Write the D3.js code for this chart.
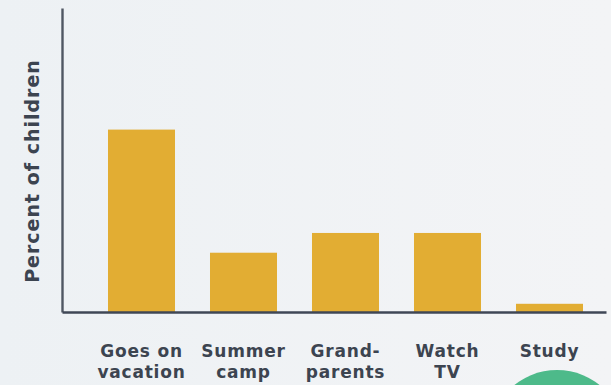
<!DOCTYPE html>
<html>
<head>
<meta charset="utf-8">
<script src="https://cdn.jsdelivr.net/npm/d3@7"></script>
<style>
  html, body { margin: 0; padding: 0; }
  body { width: 611px; height: 385px; overflow: hidden; }
  svg { display: block; }
</style>
</head>
<body>
<svg id="chart" width="611" height="385"></svg>
<script>
// Activities and the share of children doing each one (percent)
const categories = ["Goes on vacation", "Summer camp", "Grand-parents", "Watch TV", "Study"];
const labelLines = [["Goes on", "vacation"], ["Summer", "camp"], ["Grand-", "parents"], ["Watch", "TV"], ["Study"]];
const values = [60, 19.5, 26, 26, 2.7];
const yDomain = [0, 100];

const W = 611, H = 385;
const svg = d3.select("#chart");

// Soft background
const defs = svg.append("defs");
const bg = defs.append("linearGradient").attr("id", "bg").attr("x1", "0").attr("x2", "1").attr("y1", "0").attr("y2", "0");
bg.append("stop").attr("offset", "0").attr("stop-color", "#edf1f4");
bg.append("stop").attr("offset", "1").attr("stop-color", "#f3f4f6");
svg.append("rect").attr("width", W).attr("height", H).attr("fill", "url(#bg)");

const axisX = 62, axisBottom = 312, axisTop = 8, axisRight = 606;

const x = d3.scaleBand()
  .domain(categories)
  .range([90.5, 600.5])
  .paddingInner(0.343)
  .paddingOuter(0.1715);

const y = d3.scaleLinear().domain(yDomain).range([axisBottom, axisTop]);

// Bars
svg.append("g").selectAll("rect")
  .data(categories)
  .join("rect")
  .attr("x", d => x(d))
  .attr("width", x.bandwidth())
  .attr("y", (d, i) => y(values[i]))
  .attr("height", (d, i) => y(0) - y(values[i]))
  .attr("fill", "#e2ad33");

// Axes drawn as plain lines (no ticks)
const yAxis = d3.axisLeft(y).tickValues([]).tickSizeOuter(0);
const gy = svg.append("g").attr("transform", `translate(${axisX},0)`).call(yAxis);
gy.select(".domain").attr("stroke", "#4f5763").attr("stroke-width", 2.4);

const xLine = d3.scaleLinear().domain([0, 1]).range([axisX, axisRight]);
const xAxis = d3.axisBottom(xLine).tickValues([]).tickSizeOuter(0);
const gx = svg.append("g").attr("transform", `translate(0,${axisBottom})`).call(xAxis);
gx.select(".domain").attr("stroke", "#3f4756").attr("stroke-width", 2.4);

const font = "'DejaVu Sans', sans-serif";
const textColor = "#3c4450";

// Category labels
const lab = svg.append("g")
  .attr("font-family", font)
  .attr("font-weight", "bold")
  .attr("font-size", 17)
  .attr("letter-spacing", 0.8)
  .attr("fill", textColor)
  .attr("text-anchor", "middle");
categories.forEach((c, i) => {
  const cx = x(c) + x.bandwidth() / 2;
  const t = lab.append("text").attr("x", cx).attr("y", 357);
  labelLines[i].forEach((line, j) => {
    t.append("tspan").attr("x", cx).attr("dy", j === 0 ? 0 : 21).text(line);
  });
});

// Y axis title
svg.append("text")
  .attr("transform", "translate(39,171) rotate(-90)")
  .attr("text-anchor", "middle")
  .attr("font-family", font)
  .attr("font-weight", "bold")
  .attr("font-size", 19)
  .attr("letter-spacing", 1)
  .attr("fill", textColor)
  .text("Percent of children");

// Green disc peeking in at the bottom right
svg.append("circle")
  .attr("cx", 557).attr("cy", 438).attr("r", 68)
  .attr("fill", "#4dba8a");
</script>
</body>
</html>
